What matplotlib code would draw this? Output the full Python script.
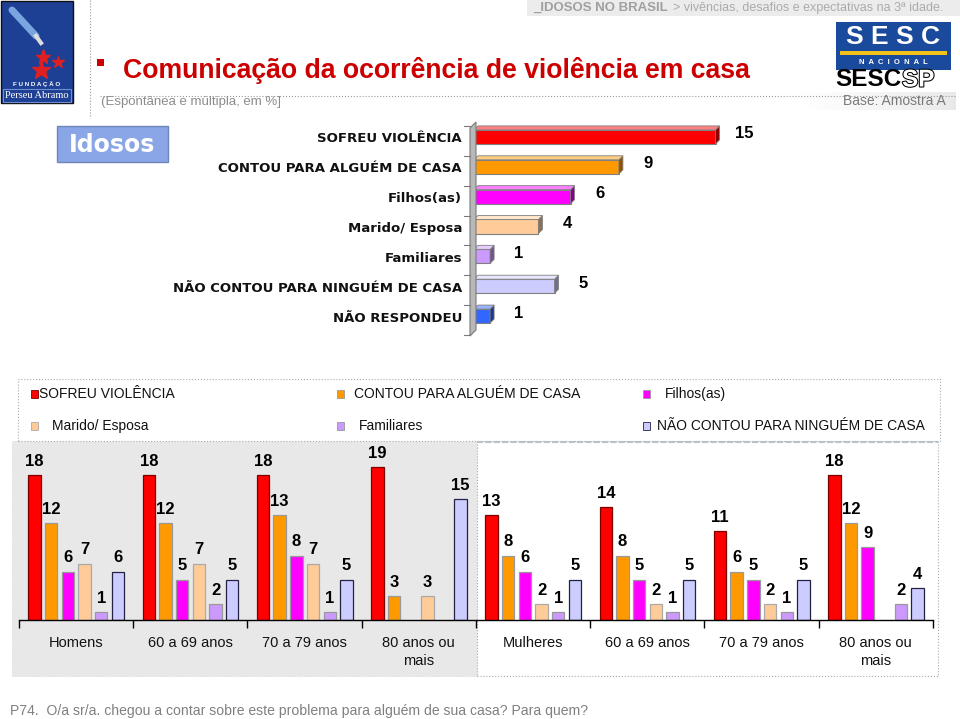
import numpy as np
from matplotlib import pyplot as plt, patheffects
from matplotlib.colors import to_rgb
from matplotlib.lines import Line2D
from matplotlib.patches import Polygon, Rectangle

W, H = 960, 719

# top chart (total)
TOP_LABELS = ["SOFREU VIOLÊNCIA", "CONTOU PARA ALGUÉM DE CASA", "Filhos(as)",
              "Marido/ Esposa", "Familiares", "NÃO CONTOU PARA NINGUÉM DE CASA",
              "NÃO RESPONDEU"]
TOP_VALUES = [15, 9, 6, 4, 1, 5, 1]
TOP_COLORS = ["#ff0000", "#ff9900", "#ff00ff", "#ffcc99", "#cc99ff", "#ccccff", "#3366ff"]

# bottom chart (by sex and age)
GROUPS = ["Homens", "60 a 69 anos", "70 a 79 anos", "80 anos ou\nmais",
          "Mulheres", "60 a 69 anos", "70 a 79 anos", "80 anos ou\nmais"]
SOFREU = [18, 18, 18, 19, 13, 14, 11, 18]
CONTOU = [12, 12, 13, 3, 8, 8, 6, 12]
FILHOS = [6, 5, 8, np.nan, 6, 5, 5, 9]
MARIDO = [7, 7, 7, 3, 2, 2, 2, np.nan]
FAMILIARES = [1, 2, 1, np.nan, 1, 1, 1, 2]
NAO_CONTOU = [6, 5, 5, 15, 5, 5, 5, 4]
SERIES = [SOFREU, CONTOU, FILHOS, MARIDO, FAMILIARES, NAO_CONTOU]
SERIES_NAMES = TOP_LABELS[:6]
SERIES_EDGES = ["#7a0000", "#999999", "#999999", "#aaaaaa", "#999999", "#222244"]

FONT = "Liberation Sans"


def fx(x):
    return x / W


def fy(y):
    return 1 - y / H


def frect(fig, x0, y0, x1, y1, **kw):
    r = Rectangle((fx(x0), fy(y1)), (x1 - x0) / W, (y1 - y0) / H,
                  transform=fig.transFigure, **kw)
    fig.add_artist(r)
    return r


def fline(fig, xs, ys, **kw):
    fig.add_artist(Line2D([fx(x) for x in xs], [fy(y) for y in ys],
                          transform=fig.transFigure, **kw))


def ftext(fig, x, y, s, **kw):
    kw.setdefault("family", FONT)
    return fig.text(fx(x), fy(y), s, **kw)


def shade(color, f):
    r, g, b = to_rgb(color)
    if f < 1:
        return (r * f, g * f, b * f)
    f = f - 1
    return (r + (1 - r) * f, g + (1 - g) * f, b + (1 - b) * f)


fig = plt.figure(figsize=(9.6, 7.19), dpi=100)

# ---- header ----
frect(fig, 527, 0, 960, 16, facecolor="#ececec", edgecolor="none", zorder=-5)
ftext(fig, 533, 8, "_IDOSOS NO BRASIL", color="#a0a0a0", fontsize=9.5,
      fontweight="bold", va="center")
ftext(fig, 673, 8, "> vivências, desafios e expectativas na 3ª idade.",
      color="#ababab", fontsize=9, va="center")

# left logo
frect(fig, 1, 1, 73, 103, facecolor="#1d3f94", edgecolor="#111111", lw=1)
fline(fig, [12, 36], [10, 36], color="#7aa6e0", lw=5, solid_capstyle="round")
fline(fig, [36, 41], [36, 43], color="#dddddd", lw=3)
for sx, sy, ss in [(43, 57, 11), (58, 62, 9), (41, 70, 14)]:
    fig.add_artist(Line2D([fx(sx)], [fy(sy)], marker="*", markersize=ss,
                          color="#e02020", transform=fig.transFigure))
ftext(fig, 37, 84, "F U N D A Ç Ã O", color="white", fontsize=4.5,
      fontweight="bold", ha="center", va="center")
frect(fig, 3, 89, 71, 102, facecolor="none", edgecolor="#6f8fd0", lw=0.8)
ftext(fig, 37, 95.5, "Perseu Abramo", color="white", fontsize=7.5,
      family="Liberation Serif", ha="center", va="center")

fline(fig, [90, 90], [0, 118], color="#999999", lw=0.8, ls=":")

# title
frect(fig, 97, 59, 104, 66, facecolor="#cc0000", edgecolor="none")
ftext(fig, 123, 70, "Comunicação da ocorrência de violência em casa",
      color="#cc0000", fontsize=19.2, fontweight="bold", va="center")
fline(fig, [100, 955], [96, 96], color="#999999", lw=0.8, ls=":")
ftext(fig, 101, 102, "(Espontânea e múltipla, em %]", color="#8c8c8c",
      fontsize=9.5, va="center")

# base box with gradient
gax = fig.add_axes([fx(800), fy(110), 155 / W, 18 / H])
gax.imshow(np.linspace(0, 1, 100)[None, :], aspect="auto", cmap="Greys",
           vmin=0, vmax=6, extent=[0, 1, 0, 1])
gax.set_axis_off()
ftext(fig, 946, 101, "Base: Amostra A", color="#7a7a7a", fontsize=10,
      ha="right", va="center")

# SESC logo
frect(fig, 836, 22, 951, 70, facecolor="#1a4a9c", edgecolor="none")
ftext(fig, 893, 37, "S E S C", color="white", fontsize=19, fontweight="bold",
      ha="center", va="center")
frect(fig, 840, 51, 947, 55, facecolor="#f2c21b", edgecolor="none")
ftext(fig, 893, 62, "N  A  C  I  O  N  A  L", color="white", fontsize=5.5,
      fontweight="bold", ha="center", va="center")
ftext(fig, 835, 80, "SESC", color="black", fontsize=17.5, fontweight="heavy",
      va="center")
sp = ftext(fig, 902, 80, "SP", color="white", fontsize=17.5, fontweight="bold",
           va="center")
sp.set_path_effects([patheffects.withStroke(linewidth=1.5, foreground="black")])

# ---- top chart ----
frect(fig, 57, 126, 168, 162, facecolor="#8aa6e6", edgecolor="#6f86b8", lw=1)
ftext(fig, 112, 145, "Idosos", color="white", fontsize=17, fontweight="bold",
      family="DejaVu Sans", ha="center", va="center")

px_unit = 16.1
row_px = 29.86
ax1 = fig.add_axes([fx(474), fy(331), 326 / W, 209 / H])
ax1.set_xlim(0, 326 / px_unit)
ax1.set_ylim(len(TOP_VALUES), 0)
ax1.set_axis_off()

# left wall
fig.add_artist(Polygon([(fx(470), fy(336)), (fx(470), fy(128)), (fx(476), fy(122)),
                        (fx(476), fy(330))], closed=True, transform=fig.transFigure,
                       facecolor="#b8b8b8", edgecolor="#7a7a7a", lw=0.8))
for k in range(len(TOP_VALUES) + 1):
    yy = 122 + k * row_px + 4
    fline(fig, [464, 470], [yy, yy], color="#7a7a7a", lw=0.8)

bh = 0.47
dx = 4 / px_unit
dy = 4 / row_px
for i, (lab, v, c) in enumerate(zip(TOP_LABELS, TOP_VALUES, TOP_COLORS)):
    yc = i + 0.5
    top, bot = yc - bh / 2, yc + bh / 2
    ax1.add_patch(Rectangle((0, top), v, bh, facecolor=c, edgecolor="#808080", lw=0.8))
    ax1.add_patch(Polygon([(v, top), (v + dx, top - dy), (v + dx, bot - dy), (v, bot)],
                          facecolor=shade(c, 0.55), edgecolor="#808080", lw=0.6))
    ax1.add_patch(Polygon([(0, top), (dx, top - dy), (v + dx, top - dy), (v, top)],
                          facecolor=shade(c, 1.5), edgecolor="#808080", lw=0.6))
    ax1.text(v + 1.8, yc - 0.1, str(v), ha="center", va="center", fontsize=12,
             fontweight="bold", family=FONT)
    ftext(fig, 462, 122 + yc * row_px + 2, lab, ha="right", va="center",
          fontsize=9.5, fontweight="bold", family="DejaVu Sans", color="#111111")

# ---- legend ----
frect(fig, 18, 379, 940, 441, facecolor="white", edgecolor="#aaaaaa", lw=0.8,
      ls=":", zorder=-4)
leg_pos = [(31, 39, 394), (337, 354, 394), (643, 665, 394),
           (31, 52, 426), (337, 359, 426), (643, 657, 426)]
for (mx, tx, ty), name, c, ec in zip(leg_pos, SERIES_NAMES, TOP_COLORS, SERIES_EDGES):
    frect(fig, mx, ty - 4, mx + 7, ty + 4, facecolor=c, edgecolor=ec, lw=0.6)
    ftext(fig, tx, ty, name, fontsize=10, va="center", color="#111111")

# ---- bottom chart ----
frect(fig, 12, 441, 477, 676, facecolor="#e8e8e8", edgecolor="#d0d0d0", lw=0.6,
      ls=":", zorder=-5)
frect(fig, 477, 441, 938, 676, facecolor="white", edgecolor="#aaaaaa", lw=0.8,
      ls=":", zorder=-5)
fline(fig, [477, 938], [442, 442], color="#b8c0c8", lw=1.5, ls=(0, (3, 1)), zorder=-4)

y_unit = 8.06
ax2 = fig.add_axes([fx(19), fy(620), 914 / W, 175 / H])
ax2.patch.set_visible(False)
ax2.set_xlim(0, len(GROUPS))
ax2.set_ylim(0, 175 / y_unit)
for s in ["top", "right", "left"]:
    ax2.spines[s].set_visible(False)
ax2.spines["bottom"].set_linewidth(1)
ax2.set_xticks(range(len(GROUPS) + 1))
ax2.set_yticks([])
ax2.tick_params(axis="x", direction="out", length=6, width=1, labelbottom=False)

offset, pitch, bw = 0.136, 0.146, 0.109
x0 = np.arange(len(GROUPS))
for j, (vals, c, ec) in enumerate(zip(SERIES, TOP_COLORS, SERIES_EDGES)):
    xs = x0 + offset + j * pitch
    vals = np.array(vals, dtype=float)
    ax2.bar(xs, vals, width=bw, color=c, edgecolor=ec, linewidth=0.9)
    for x, v in zip(xs, vals):
        if np.isnan(v):
            continue
        ax2.text(x, v + 1.7, str(int(v)), ha="center", va="center", fontsize=12,
                 fontweight="bold", family=FONT)

for g, lab in enumerate(GROUPS):
    ax2.text(g + 0.5, -1.95, lab, ha="center", va="top", fontsize=10.5,
             family=FONT, linespacing=1.35, color="#111111")

# footer
ftext(fig, 10, 711, "P74.  O/a sr/a. chegou a contar sobre este problema para alguém de sua casa? Para quem?",
      color="#808080", fontsize=10.1, va="center")

fig.savefig("out.png", dpi=100)
